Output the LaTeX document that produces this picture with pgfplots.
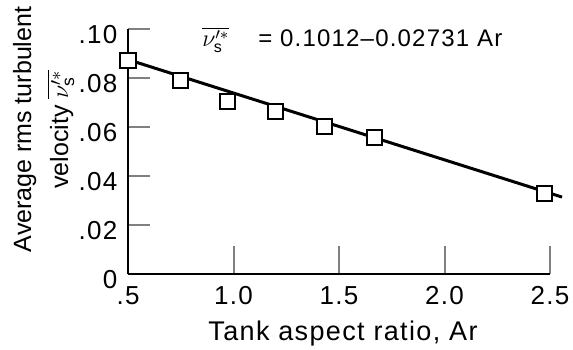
\documentclass[border=0pt]{standalone}
\usepackage{fontspec}
\setmainfont{Liberation Sans}
\newfontfamily\widefont{Liberation Sans}[LetterSpace=5]
\usepackage{pgfplots}
\pgfplotsset{compat=1.18}
\begin{document}
\fontsize{12.5pt}{15pt}\selectfont
\begin{tikzpicture}
\useasboundingbox (-64pt,-37.5pt) rectangle (222.5pt,137pt);
\begin{axis}[
  scale only axis,
  width=211pt, height=122.5pt,
  xmin=0.5, xmax=2.5, ymin=0, ymax=0.10,
  axis x line=bottom, axis y line=left,
  axis line style={-, line width=1pt},
  clip=false,
  tick align=inside,
  xtick={0.5,1,1.5,2,2.5},
  xticklabels={.5,1.0,1.5,2.0,2.5},
  ytick={0,0.02,0.04,0.06,0.08,0.10},
  yticklabels={0,.02,.04,.06,.08,.10},
  /pgf/number format/assume math mode=true,
  major tick length=11pt,
  xtick style={line width=1pt, /pgfplots/major tick length=14pt},
  ytick style={line width=1pt},
  tick label style={font=\widefont\fontsize{13pt}{15pt}\selectfont},
  yticklabel style={yshift=-3pt, xshift=-1pt},
  xticklabel style={yshift=-2pt},
  xlabel={Tank aspect ratio, Ar},
  xlabel style={at={(axis description cs:0.5,0)}, anchor=center, yshift=-30pt, xshift=2pt, font=\widefont\fontsize{13.5pt}{16pt}\selectfont},
  ylabel={Average rms turbulent\\velocity $\overline{\nu'^{*}_{\mathrm{s}}}$},
  ylabel style={align=center, at={(axis description cs:-0.2,0.59)}, anchor=center, font=\fontsize{12.5pt}{18.5pt}\selectfont},
]
\addplot[black, line width=1.5pt] coordinates {(0.5,0.0875) (2.557,0.0314)};
\addplot[only marks, mark=square*, mark size=3.75pt, mark options={fill=white, draw=black, line width=1pt}]
  coordinates {(0.5,0.0871) (0.75,0.0788) (0.97,0.0706) (1.2,0.0665) (1.43,0.0604) (1.67,0.0556) (2.475,0.0327)};
\node[anchor=base west, inner sep=0pt, font=\widefont\fontsize{12pt}{14pt}\selectfont] at (axis cs:0.85,0.0927)
  {$\overline{\nu'^{*}_{\mathrm{s}}}$\hspace{1.2em}= 0.1012–0.02731 Ar};
\end{axis}
\end{tikzpicture}
\end{document}
